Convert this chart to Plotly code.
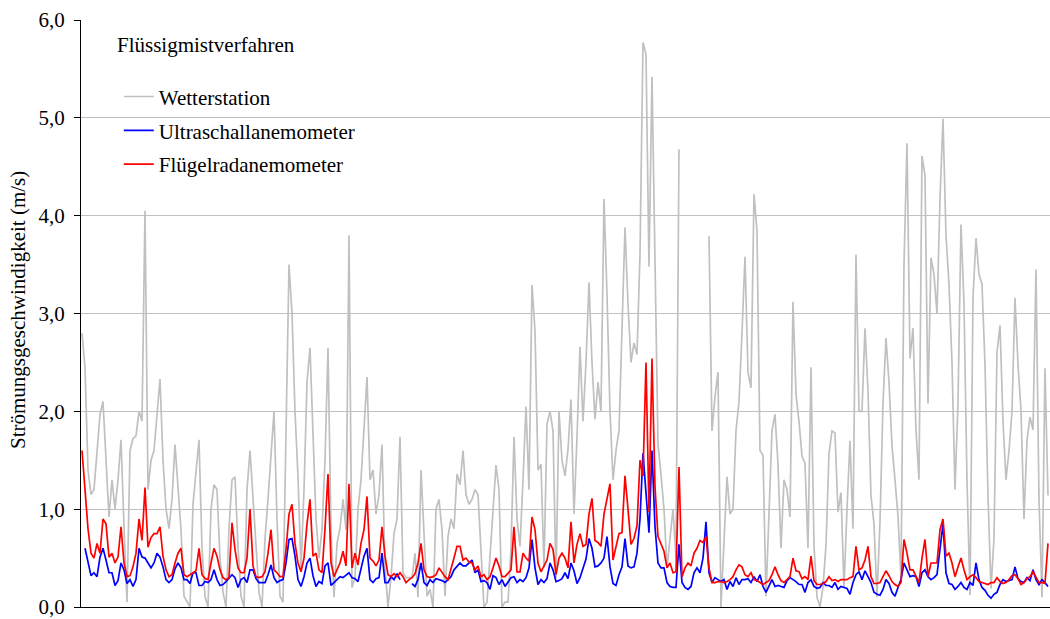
import plotly.graph_objects as go

# Wetterstation (grey), values in m/s; None = no data
wetterstation = [
    2.8, 2.45, 1.4, 1.15, 1.2, 1.6, 1.97, 2.1, 1.46, 0.92,
    1.3, 1.0, 1.3, 1.71, 0.82, 0.05, 1.6, 1.72, 1.75, 2.0,
    1.9, 4.05, 1.2, 1.5, 1.6, 1.95, 2.33, 1.5, 1.0, 0.8,
    1.1, 1.66, 1.2, 0.79, 0.11, 0.05, 0.0, 1.05, 1.36, 1.71,
    0.6, 0.11, 0.0, 1.0, 1.25, 1.2, 0.5, 0.15, 0.0, 0.8,
    1.3, 1.33, 0.62, 0.11, 0.0, 1.2, 1.6, 1.1, 0.6, 0.15,
    0.0, 0.7, 1.1, 1.5, 2.0, 0.9, 0.11, 0.05, 1.74, 3.5,
    3.0, 2.0, 1.33, 0.4, 1.2, 2.3, 2.65, 1.8, 0.9, 0.5,
    0.79, 1.5, 2.65, 0.79, 0.1, 0.65, 0.8, 1.1, 0.79, 3.8,
    0.2, 0.3, 1.0, 1.3, 1.8, 2.35, 1.3, 1.4, 0.95, 1.15,
    1.66, 0.4, 0.0, 0.3, 0.75, 0.9, 1.74, 0.35, 0.3, 0.3,
    0.3, 0.55, 0.1, 1.4, 0.79, 0.11, 0.18, 0.0, 1.0, 1.1,
    0.79, 0.11, 0.72, 0.9, 0.8, 1.36, 1.25, 1.6, 1.15, 1.05,
    1.1, 1.2, 1.15, 0.62, 0.0, 0.05, 0.5, 0.9, 1.45, 1.2,
    0.0, 0.05, 0.05, 0.6, 1.74, 0.9, 0.62, 1.3, 2.05, 1.2,
    3.29, 2.82, 1.4, 1.46, 0.4, 1.87, 2.0, 1.8, 0.3, 2.0,
    1.5, 1.34, 1.61, 2.12, 0.95, 1.73, 2.66, 1.9, 2.5, 3.32,
    2.5, 1.92, 2.3, 2.0, 4.17, 3.2, 2.0, 1.3, 1.6, 1.8,
    2.9, 3.88, 3.1, 2.5, 2.7, 2.58, 3.6, 5.77, 5.65, 3.48,
    5.42, 3.59, 1.67, 1.35, 1.0, 0.4, 0.72, 1.0, 0.5, 4.68,
    None, None, None, None, None, None, None, None, None, 3.79,
    1.8, 2.15, 2.4, 0.0, 0.62, 1.33, 0.95, 1.0, 1.8, 2.1,
    2.8, 3.58, 2.4, 2.24, 4.22, 3.85, 1.6, 1.55, 0.11, 1.0,
    1.8, 1.97, 1.46, 0.6, 1.3, 1.2, 0.92, 3.12, 2.17, 1.9,
    1.54, 1.47, 0.6, 2.45, 0.63, 0.1, 0.0, 0.2, 0.63, 1.57,
    1.8, 1.78, 0.97, 1.17, 0.2, 1.0, 1.7, 0.8, 3.6, 2.0,
    2.0, 2.85, 2.21, 1.14, 0.85, 0.1, 0.87, 2.08, 2.75, 2.3,
    1.65, 1.3, 0.93, 0.3, 3.5, 4.74, 2.54, 2.85, 1.81, 1.3,
    4.61, 4.41, 2.08, 3.57, 3.4, 3.0, 4.17, 4.99, 3.8, 3.3,
    2.5, 1.2, 2.08, 3.91, 3.1, 1.3, 0.12, 3.16, 3.77, 3.4,
    3.3, 2.48, 1.14, 0.19, 0.7, 2.6, 2.88, 1.9, 1.3, 1.6,
    2.0, 3.16, 2.48, 2.01, 0.9, 1.7, 1.94, 1.81, 3.45, 1.1,
    0.1, 2.44, 1.14,
]

# Ultraschallanemometer (blue)
ultraschall = [
    None, 0.6, 0.45, 0.32, 0.35, 0.31, 0.51, 0.6, 0.48, 0.35,
    0.35, 0.22, 0.27, 0.45, 0.38, 0.24, 0.28, 0.21, 0.28, 0.6,
    0.51, 0.5, 0.45, 0.4, 0.45, 0.55, 0.51, 0.41, 0.28, 0.25,
    0.28, 0.39, 0.45, 0.4, 0.28, 0.28, 0.24, 0.35, 0.35, 0.22,
    0.22, 0.26, 0.25, 0.28, 0.38, 0.28, 0.22, 0.23, 0.26, 0.29,
    0.33, 0.3, 0.2, 0.28, 0.3, 0.25, 0.38, 0.38, 0.29, 0.25,
    0.25, 0.25, 0.33, 0.43, 0.3, 0.25, 0.27, 0.28, 0.45, 0.69,
    0.7, 0.52, 0.28, 0.21, 0.31, 0.45, 0.5, 0.32, 0.21, 0.26,
    0.24, 0.42, 0.45, 0.22, 0.25, 0.28, 0.31, 0.3, 0.33, 0.35,
    0.3, 0.29, 0.26, 0.38, 0.52, 0.6, 0.28, 0.25, 0.29, 0.3,
    0.55, 0.25, 0.25, 0.31, 0.28, 0.34, 0.28, None, None, None,
    0.24, 0.21, 0.28, 0.45, 0.25, 0.22, 0.28, 0.25, 0.29, 0.28,
    0.27, 0.25, 0.28, 0.31, 0.38, 0.41, 0.45, 0.42, 0.42, 0.45,
    0.48, 0.35, 0.38, 0.26, 0.27, 0.25, 0.18, 0.32, 0.3, 0.23,
    0.28, 0.21, 0.26, 0.3, 0.31, 0.25, 0.28, 0.26, 0.3, 0.4,
    0.69, 0.4, 0.23, 0.28, 0.25, 0.29, 0.45, 0.38, 0.26, 0.27,
    0.29, 0.35, 0.29, 0.45, 0.37, 0.24, 0.3, 0.4, 0.49, 0.7,
    0.6, 0.41, 0.42, 0.45, 0.5, 0.72, 0.41, 0.24, 0.22, 0.33,
    0.41, 0.7, 0.42, 0.4, 0.41, 0.55, 0.9, 1.57, 1.15, 0.76,
    1.6, 0.82, 0.45, 0.4, 0.4, 0.25, 0.21, 0.2, 0.2, 0.64,
    0.25, 0.2, 0.18, 0.21, 0.35, 0.4, 0.35, 0.5, 0.87, 0.35,
    0.25, 0.3, 0.28, 0.26, 0.28, 0.18, 0.26, 0.21, 0.3, 0.23,
    0.28, 0.28, 0.29, 0.25, 0.31, 0.26, 0.33, 0.21, 0.15, 0.22,
    0.28, 0.21, 0.22, 0.21, 0.2, 0.27, 0.3, 0.28, 0.26, 0.23,
    0.23, 0.15, 0.25, 0.28, 0.21, 0.19, 0.2, 0.25, 0.22, 0.22,
    0.2, 0.25, 0.18, 0.21, 0.2, 0.19, 0.13, 0.25, 0.33, 0.36,
    0.28, 0.37, 0.31, 0.25, 0.15, 0.13, 0.12, 0.18, 0.28, 0.24,
    0.15, 0.11, 0.2, 0.28, 0.45, 0.38, 0.31, 0.32, 0.31, 0.21,
    0.35, 0.38, 0.31, 0.28, 0.3, 0.33, 0.62, 0.85, 0.35, 0.24,
    0.23, 0.18, 0.21, 0.25, 0.2, 0.18, 0.25, 0.22, 0.45, 0.28,
    0.2, 0.17, 0.12, 0.09, 0.13, 0.15, 0.23, 0.28, 0.26, 0.27,
    0.28, 0.41, 0.29, 0.26, 0.25, 0.3, 0.27, 0.38, 0.28, 0.23,
    0.28, 0.25, 0.21,
]

# Flügelradanemometer (red)
fluegelrad = [
    1.6, 1.22, 0.8, 0.55, 0.5, 0.65, 0.55, 0.9, 0.85, 0.51,
    0.55, 0.45, 0.51, 0.82, 0.45, 0.31, 0.32, 0.41, 0.55, 0.9,
    0.68, 1.22, 0.61, 0.71, 0.75, 0.75, 0.82, 0.52, 0.38, 0.31,
    0.33, 0.45, 0.55, 0.6, 0.33, 0.31, 0.33, 0.35, 0.37, 0.6,
    0.33, 0.29, 0.28, 0.45, 0.6, 0.52, 0.38, 0.3, 0.28, 0.3,
    0.86, 0.59, 0.4, 0.35, 0.35, 0.5, 1.0, 0.42, 0.31, 0.3,
    0.31, 0.36, 0.55, 0.79, 0.38, 0.35, 0.31, 0.31, 0.59, 0.95,
    1.05, 0.65, 0.45, 0.36, 0.5, 0.85, 1.1, 0.52, 0.55, 0.38,
    0.35, 0.8, 1.36, 0.45, 0.31, 0.38, 0.45, 0.57, 0.42, 1.26,
    0.4, 0.55, 0.43, 0.65, 0.79, 1.13, 0.5, 0.47, 0.42, 0.48,
    0.82, 0.52, 0.33, 0.31, 0.34, 0.31, 0.35, 0.31, 0.25, 0.28,
    0.3, 0.34, 0.45, 0.65, 0.38, 0.31, 0.3, 0.31, 0.33, 0.4,
    0.35, 0.31, 0.28, 0.38, 0.5, 0.62, 0.62, 0.48, 0.5, 0.46,
    0.45, 0.38, 0.42, 0.31, 0.33, 0.28, 0.31, 0.4, 0.5, 0.42,
    0.31, 0.31, 0.34, 0.38, 0.82, 0.36, 0.36, 0.55, 0.5, 0.47,
    0.92, 0.79, 0.45, 0.36, 0.42, 0.48, 0.65, 0.59, 0.33, 0.5,
    0.55, 0.5, 0.4, 0.87, 0.45, 0.64, 0.75, 0.62, 0.64, 0.95,
    1.11, 0.68, 0.66, 0.62, 0.95, 1.11, 1.26, 0.48, 0.6, 0.75,
    0.76, 1.34, 1.0, 0.64, 0.7, 0.83, 1.5, 1.34, 2.5, 0.97,
    2.54, 1.23, 0.72, 0.65, 0.57, 0.4, 0.45, 0.35, 0.36, 1.43,
    0.31, 0.4, 0.45, 0.42, 0.55, 0.6, 0.68, 0.66, 0.72, 0.4,
    0.25, 0.25, 0.26, 0.26, 0.25, 0.26, 0.28, 0.31, 0.38, 0.43,
    0.41, 0.33, 0.31, 0.35, 0.28, 0.27, 0.25, 0.23, 0.25, 0.27,
    0.33, 0.41, 0.33, 0.27, 0.25, 0.28, 0.31, 0.5, 0.37, 0.36,
    0.29, 0.31, 0.28, 0.52, 0.27, 0.23, 0.23, 0.24, 0.26, 0.31,
    0.27, 0.28, 0.26, 0.28, 0.28, 0.28, 0.3, 0.31, 0.62, 0.38,
    0.4, 0.48, 0.62, 0.31, 0.24, 0.24, 0.25, 0.31, 0.37, 0.32,
    0.26, 0.23, 0.21, 0.25, 0.69, 0.55, 0.38, 0.38, 0.31, 0.25,
    0.5, 0.69, 0.31, 0.45, 0.45, 0.45, 0.79, 0.9, 0.52, 0.55,
    0.45, 0.31, 0.41, 0.5, 0.38, 0.28, 0.31, 0.33, 0.3, 0.26,
    0.25, 0.24, 0.23, 0.25, 0.25, 0.3, 0.26, 0.24, 0.25, 0.28,
    0.32, 0.33, 0.29, 0.23, 0.25, 0.29, 0.31, 0.36, 0.31, 0.25,
    0.25, 0.24, 0.65,
]

messung = list(range(len(wetterstation)))
y_ticks = [0, 1, 2, 3, 4, 5, 6]

FONT = "Liberation Serif"

fig = go.Figure()
fig.add_trace(go.Scatter(x=messung, y=wetterstation, mode="lines", name="Wetterstation",
                         line=dict(color="#C0C0C0", width=1.7), legendgroup="a", connectgaps=False))
fig.add_trace(go.Scatter(x=messung, y=ultraschall, mode="lines", name="Ultraschallanemometer",
                         line=dict(color="#0000FF", width=1.7), legendgroup="b", connectgaps=False))
fig.add_trace(go.Scatter(x=messung, y=fluegelrad, mode="lines", name="Flügelradanemometer",
                         line=dict(color="#FF0000", width=1.7), legendgroup="c", connectgaps=False))

fig.update_layout(
    width=1050, height=619,
    margin=dict(l=81, r=0, t=20, b=8),
    paper_bgcolor="white", plot_bgcolor="white",
    font=dict(family=FONT, size=21, color="black"),
    separators=", ",
    showlegend=True,
    legend=dict(x=0.039, y=0.904, xanchor="left", yanchor="top",
                bgcolor="rgba(0,0,0,0)", font=dict(family=FONT, size=21),
                itemwidth=30, tracegroupgap=3.5),
    shapes=[dict(type="rect", xref="paper", yref="paper", x0=0.0227, x1=0.3003,
                 y0=0.72, y1=0.99, fillcolor="white", line=dict(width=0), layer="between")],
    annotations=[
        dict(text="Flüssigmistverfahren", xref="paper", yref="paper", x=0.0351, y=0.9577,
             xanchor="left", yanchor="middle", showarrow=False, font=dict(family=FONT, size=21)),
        dict(text="Strömungsgeschwindigkeit (m/s)", xref="paper", yref="paper", x=-0.065, y=0.506,
             xanchor="center", yanchor="middle", textangle=-90, showarrow=False,
             font=dict(family=FONT, size=21)),
    ],
)
fig.update_xaxes(range=[-1/3, 322.67], showgrid=False, showticklabels=False, ticks="",
                 showline=True, linecolor="black", linewidth=1, zeroline=False)
fig.update_yaxes(range=[0, 6], tickvals=y_ticks, tickformat=".1f", showgrid=True,
                 gridcolor="#C0C0C0", gridwidth=1, showline=True, linecolor="black", linewidth=1,
                 ticks="outside", ticklen=6, tickcolor="black", zeroline=False,
                 ticklabelstandoff=5, ticklabeloverflow="allow")

fig.write_html("out.html", config={"displayModeBar": False},
               post_script="document.body.style.margin='0';document.body.style.overflow='hidden';")
